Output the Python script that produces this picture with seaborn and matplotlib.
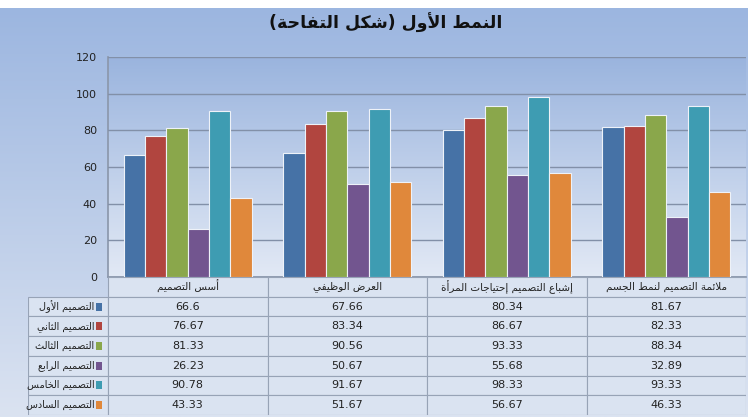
import numpy as np
import pandas as pd
import matplotlib
matplotlib.use("Agg")
import matplotlib.pyplot as plt
from matplotlib.colors import LinearSegmentedColormap
from matplotlib.patches import Rectangle
import seaborn as sns

sns.set_theme(style="white")
plt.rcParams['font.family'] = ['DejaVu Sans']

title = "النمط الأول (شكل التفاحة)"
categories = ["أسس التصميم", "العرض الوظيفي", "إشباع التصميم إحتياجات المرأة", "ملائمة التصميم لنمط الجسم"]
series = ["التصميم الأول", "التصميم الثاني", "التصميم الثالث", "التصميم الرابع", "التصميم الخامس", "التصميم السادس"]
values = [
    [66.6, 67.66, 80.34, 81.67],
    [76.67, 83.34, 86.67, 82.33],
    [81.33, 90.56, 93.33, 88.34],
    [26.23, 50.67, 55.68, 32.89],
    [90.78, 91.67, 98.33, 93.33],
    [43.33, 51.67, 56.67, 46.33],
]
colors = ["#4672a6", "#b1453f", "#8aa74b", "#72558f", "#3e9cb2", "#e0883b"]
yticks = [0, 20, 40, 60, 80, 100, 120]


# matplotlib has no Arabic shaping, so pick the presentation forms by hand
codes = list(range(0x621, 0x63B)) + list(range(0x641, 0x64B))
nforms = [1, 2, 2, 2, 2, 4, 2, 4, 2, 4, 4, 4, 4, 4, 2, 2, 2, 2, 4, 4, 4, 4, 4, 4, 4, 4,
          4, 4, 4, 4, 4, 4, 4, 2, 2, 4]
FORMS = {}
base = 0xFE80
for c, n in zip(codes, nforms):
    if n == 1:
        FORMS[chr(c)] = [base] * 4
    elif n == 2:
        FORMS[chr(c)] = [base, base + 1, base, base + 1]
    else:
        FORMS[chr(c)] = [base, base + 1, base + 2, base + 3]
    base += n
DUAL = {c for c, n in zip(map(chr, codes), nforms) if n == 4}
LAMALEF = {'\u0622': 0xFEF5, '\u0623': 0xFEF7, '\u0625': 0xFEF9, '\u0627': 0xFEFB}


def ar(text):
    res = []
    i = 0
    while i < len(text):
        c = text[i]
        prev = text[i - 1] if i > 0 else ''
        if c not in FORMS:
            res.append({'(': ')', ')': '('}.get(c, c))
            i += 1
            continue
        left = prev in DUAL and c != '\u0621'
        if c == '\u0644' and i + 1 < len(text) and text[i + 1] in LAMALEF:
            res.append(chr(LAMALEF[text[i + 1]] + (1 if left else 0)))
            i += 2
            continue
        nxt = text[i + 1] if i + 1 < len(text) else ''
        right = c in DUAL and nxt in FORMS
        res.append(chr(FORMS[c][(1 if left else 0) + (2 if right else 0)]))
        i += 1
    return ''.join(reversed(res))


rows = []
for s, vals in zip(series, values):
    for cat, v in zip(categories, vals):
        rows.append({'category': cat, 'series': s, 'value': v})
df = pd.DataFrame(rows)

W, H = 748, 417
fig = plt.figure(figsize=(W / 100, H / 100), dpi=100)
fig.patch.set_facecolor('white')

# background gradient
bg = fig.add_axes([0, 0, 1, 1 - 8 / H], zorder=-10)
bg_cmap = LinearSegmentedColormap.from_list('bg', ['#9cb6e0', '#dbe3f1'])
bg.imshow(np.linspace(0, 1, 256).reshape(-1, 1), aspect='auto', cmap=bg_cmap, extent=[0, 1, 0, 1])
bg.set_axis_off()

px_l, px_r, px_t, px_b = 108, 746, 57, 277
ax = fig.add_axes([px_l / W, 1 - px_b / H, (px_r - px_l) / W, (px_b - px_t) / H])
ax.patch.set_visible(False)
pa_cmap = LinearSegmentedColormap.from_list('pa', ['#9ab4de', '#e2e9f5'])
ax.imshow(np.linspace(0, 1, 256).reshape(-1, 1), aspect='auto', cmap=pa_cmap,
          extent=[0, 1, 0, 1], transform=ax.transAxes, zorder=0)

sns.barplot(data=df, x='category', y='value', hue='series', order=categories,
            hue_order=series, palette=colors, width=0.8, edgecolor='#eef2f8',
            linewidth=0.8, saturation=1, legend=False, ax=ax, zorder=3)
ax.set_xlim(-0.5, len(categories) - 0.5)
ax.set_ylim(0, 120)
ax.set_yticks(yticks)
ax.yaxis.grid(True, color='#8290a8', linewidth=1)
ax.set_axisbelow(False)
for line in ax.get_ygridlines():
    line.set_zorder(1)
ax.set_xticks([])
ax.set_xlabel('')
ax.set_ylabel('')
ax.tick_params(axis='y', length=0, pad=8, labelsize=8, labelcolor='#222222')
for side in ['top', 'right']:
    ax.spines[side].set_visible(False)
ax.spines['left'].set_color('#8c98ac')
ax.spines['bottom'].set_color('#8c98ac')

fig.text(0.515, 0.945, ar(title), ha='center', va='center', fontsize=12.5,
         fontweight='bold', color='#111111')

# data table under the bars
tb_l, tb_b = 28, 415
tax = fig.add_axes([tb_l / W, 1 - tb_b / H, (px_r - tb_l) / W, (tb_b - px_b) / H])
cat_w = (px_r - px_l) / len(categories)
lab_w = (px_l - tb_l) / cat_w
tax.set_xlim(-0.5 - lab_w, len(categories) - 0.5)
tax.set_ylim(len(series) + 1, 0)
tax.set_axis_off()
edge = '#97a3b6'
cell = '#dae3f1'
for j, cat in enumerate(categories):
    tax.add_patch(Rectangle((j - 0.5, 0), 1, 1, facecolor=cell, edgecolor=edge, lw=0.8))
    tax.text(j, 0.5, ar(cat), ha='center', va='center', fontsize=7.5, color='#222222')
for i, s in enumerate(series):
    r = i + 1
    tax.add_patch(Rectangle((-0.5 - lab_w, r), lab_w, 1, facecolor=cell, edgecolor=edge, lw=0.8))
    tax.add_patch(Rectangle((-0.5 - 0.075, r + 0.3), 0.04, 0.4, facecolor=colors[i],
                            edgecolor='none'))
    tax.text(-0.5 - 0.085, r + 0.5, ar(s), ha='right', va='center', fontsize=7, color='#222222')
    for j in range(len(categories)):
        tax.add_patch(Rectangle((j - 0.5, r), 1, 1, facecolor=cell, edgecolor=edge, lw=0.8))
        tax.text(j, r + 0.5, f"{values[i][j]:g}", ha='center', va='center', fontsize=8,
                 color='#222222')

fig.savefig('out.png', dpi=100)
